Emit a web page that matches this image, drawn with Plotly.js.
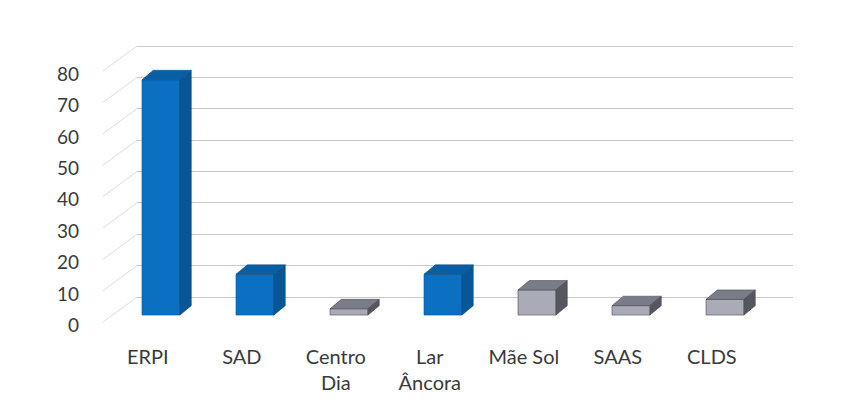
<!DOCTYPE html>
<html>
<head>
<meta charset="utf-8">
<script src="https://cdn.plot.ly/plotly-3.0.1.min.js"></script>
<style>html,body{margin:0;padding:0;background:#fff;}#chart{width:842px;height:410px;}</style>
</head>
<body>
<div id="chart"></div>
<script>
// ---- data ----
const categories = ['ERPI', 'SAD', 'Centro<br>Dia', 'Lar<br>Âncora', 'Mãe Sol', 'SAAS', 'CLDS'];
const values = [75, 13, 2, 13, 8, 3, 5];
const highlighted = ['ERPI', 'SAD', 'Lar<br>Âncora'];
const yTickValues = [0, 10, 20, 30, 40, 50, 60, 70, 80];

// ---- style ----
const BAR_W = 0.404;     // front face width (x units)
const DEPTH_X = 0.12;    // 3D depth offset (x units)
const DEPTH_Y = 3.0;     // 3D depth offset (y units)
const BASE = -5.75;      // front face floor (y units, back wall is at 0)
const LABEL_SHIFT = 9;   // front labels sit lower than the back wall
const SIDE_SHIFT = 8;    // side wall diagonal front end

const blue = {front: '#0B70C2', top: '#0A5EA4', side: '#075796', edge: '#06508c'};
const grey = {front: '#A9ABB6', top: '#7A7C88', side: '#55565E', edge: '#4a4b52'};

const xs = categories.map((c, i) => i);
const pal = categories.map(c => highlighted.includes(c) ? blue : grey);

const traces = [];
traces.push({
  type: 'bar', x: xs, y: values, base: values.map(() => BASE), width: BAR_W,
  marker: {color: pal.map(p => p.front), line: {color: pal.map(p => p.edge), width: 0.6}},
  hoverinfo: 'skip', showlegend: false
});

categories.forEach((c, i) => {
  const p = pal[i];
  const l = xs[i] - BAR_W / 2, r = xs[i] + BAR_W / 2;
  const top = BASE + values[i];
  // top face
  traces.push({
    type: 'scatter', mode: 'lines', fill: 'toself', fillcolor: p.top,
    x: [l, r, r + DEPTH_X, l + DEPTH_X, l],
    y: [top, top, top + DEPTH_Y, top + DEPTH_Y, top],
    line: {color: p.edge, width: 0.6}, hoverinfo: 'skip', showlegend: false
  });
  // side face
  traces.push({
    type: 'scatter', mode: 'lines', fill: 'toself', fillcolor: p.side,
    x: [r, r + DEPTH_X, r + DEPTH_X, r, r],
    y: [BASE, BASE + DEPTH_Y, top + DEPTH_Y, top, BASE],
    line: {color: p.edge, width: 0.6}, hoverinfo: 'skip', showlegend: false
  });
});

// invisible trace for the label axis
traces.push({type: 'scatter', x: [0], y: [0], yaxis: 'y2', mode: 'markers',
  marker: {opacity: 0}, hoverinfo: 'skip', showlegend: false});

const Y0 = -13.7, Y1 = 85.1;

const shapes = yTickValues.map(v => ({
  type: 'line', layer: 'below', xref: 'paper', yref: 'y',
  x0: -0.052, y0: v - SIDE_SHIFT, x1: 0, y1: v,
  line: {color: '#dcdcdc', width: 1}
}));

const layout = {
  width: 842, height: 410,
  margin: {l: 137, r: 49, t: 30, b: 70},
  paper_bgcolor: '#ffffff', plot_bgcolor: 'rgba(0,0,0,0)',
  font: {family: 'Lato, Carlito, Calibri, sans-serif', size: 20, color: '#3a3a3a'},
  showlegend: false,
  bargap: 0,
  xaxis: {
    range: [-0.2553, 6.7234], showgrid: false, zeroline: false, showline: false,
    tickvals: xs.map(x => x - 0.14), ticktext: categories, ticks: '',
    ticklabelstandoff: 3, tickfont: {size: 20, color: '#3a3a3a'}, fixedrange: true
  },
  yaxis: {
    range: [Y0, Y1], tickvals: yTickValues, showticklabels: false,
    showgrid: true, gridcolor: '#c9c9c9', gridwidth: 1, zeroline: false, showline: false,
    ticks: '', fixedrange: true
  },
  yaxis2: {
    overlaying: 'y', side: 'left', range: [Y0 + LABEL_SHIFT, Y1 + LABEL_SHIFT],
    tickvals: yTickValues, showgrid: false, zeroline: false, showline: false, ticks: '',
    ticklabelstandoff: 57, tickfont: {size: 19, color: '#3a3a3a'}, fixedrange: true
  },
  shapes: shapes
};

Plotly.newPlot('chart', traces, layout, {displayModeBar: false, staticPlot: true});
</script>
</body>
</html>
